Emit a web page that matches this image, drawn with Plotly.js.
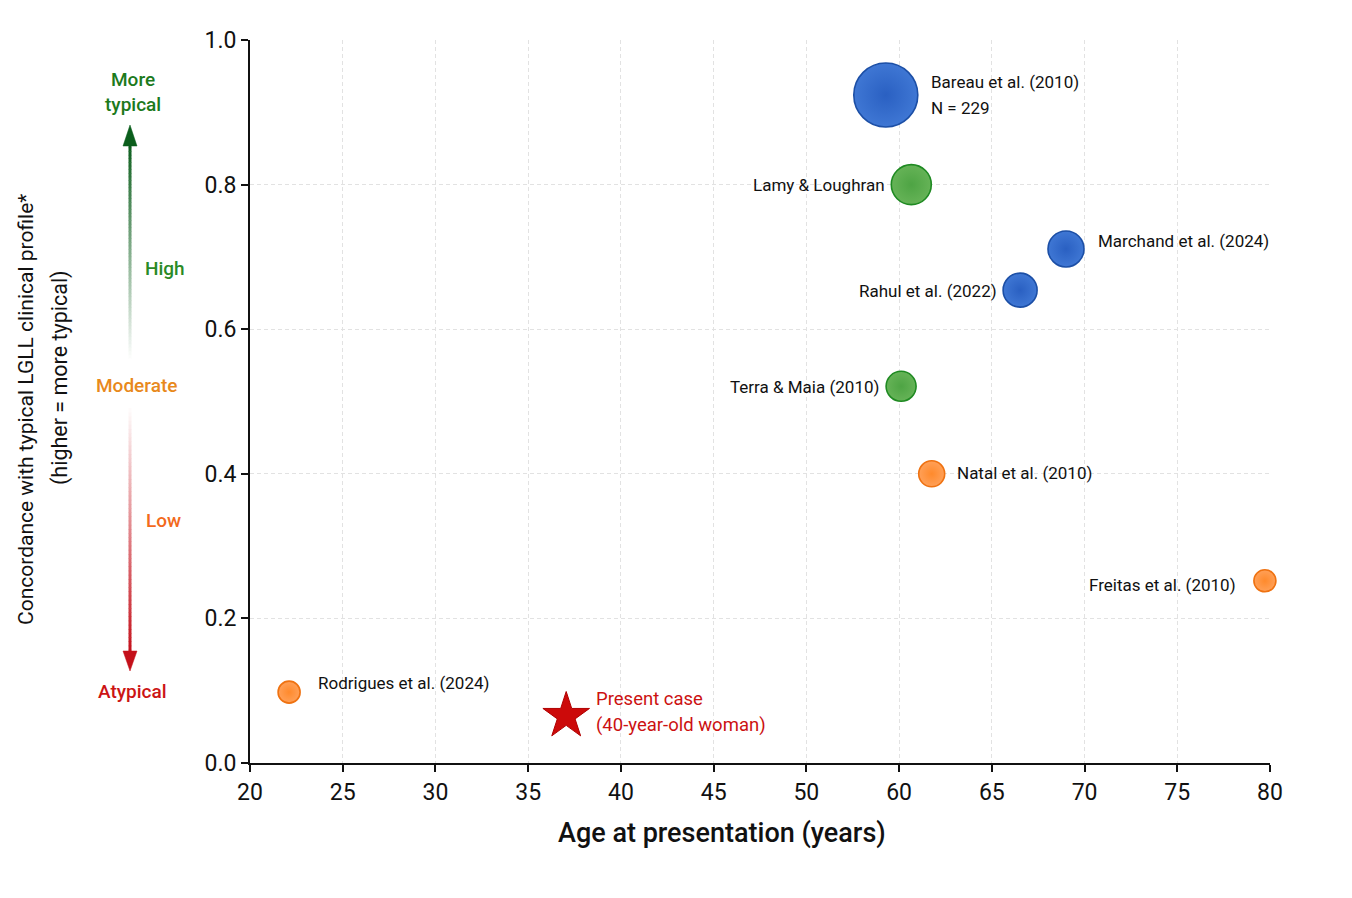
<!DOCTYPE html>
<html>
<head>
<meta charset="utf-8">
<script src="https://cdn.plot.ly/plotly-3.0.1.min.js"></script>
<style>
  html, body { margin: 0; padding: 0; background: #ffffff; }
  #chart { width: 1352px; height: 898px; }
</style>
</head>
<body>
<div id="chart"></div>
<script>
// ---------------- DATA ----------------
const studies = ['Bareau et al. (2010)', 'Lamy & Loughran', 'Marchand et al. (2024)', 'Rahul et al. (2022)',
                 'Terra & Maia (2010)', 'Natal et al. (2010)', 'Freitas et al. (2010)', 'Rodrigues et al. (2024)'];
// x positions read on the drawn (evenly ticked) age axis
const agePos = [57.4, 58.9, 68.0, 65.3, 58.3, 60.1, 79.7, 22.3];
const concordance = [0.924, 0.800, 0.711, 0.654, 0.521, 0.400, 0.252, 0.098];
const studyGroup = ['blue', 'green', 'blue', 'blue', 'green', 'orange', 'orange', 'orange'];
const bareauN = 229;

const presentLabel = ['Present case', '(40-year-old woman)'];
const presentAge = [38.6];
const presentConcordance = [0.065];

const xTickLabels = ['20', '25', '30', '35', '40', '45', '50', '60', '65', '70', '75', '80'];
const yTickValues = [0, 0.2, 0.4, 0.6, 0.8, 1.0];
const yTickLabels = ['0.0', '0.2', '0.4', '0.6', '0.8', '1.0'];

// ---------------- STYLE ----------------
const FONT = 'Roboto, "Liberation Sans", Arial, sans-serif';
const markerPx = [64, 40, 36, 34, 30, 26, 22, 22];
const palette = {
  blue:   {center: '#3f77d4', edge: '#2a60c2', line: '#1c4fa6'},
  green:  {center: '#66b357', edge: '#4ea444', line: '#1f8a22'},
  orange: {center: '#ffa058', edge: '#ff8a2c', line: '#ef7211'}
};
// label placement: side, horizontal gap beyond marker edge, vertical shift (px)
const labelSide  = ['right', 'left', 'right', 'left', 'left', 'right', 'left', 'right'];
const labelGap   = [11, 4, 12, 4, 5, 10, 16, 16];
const labelShift = [0, 0, 8, -1, -1, 1, -4, 9];

const xMin = 20, xMax = 80;
const xTickVals = xTickLabels.map((_, i) => xMin + i * (xMax - xMin) / (xTickLabels.length - 1));

// plot geometry helpers (paper coords from pixels) for the side scale
const M = {l: 250, r: 82, t: 40, b: 135};
const W = 1352, H = 898;
const pw = W - M.l - M.r, ph = H - M.t - M.b;
const px = v => (v - M.l) / pw;
const py = v => (H - M.b - v) / ph;

// ---------------- TRACES ----------------
const traces = [];
['blue', 'green', 'orange'].forEach(g => {
  const idx = studies.map((_, i) => i).filter(i => studyGroup[i] === g);
  traces.push({
    type: 'scatter', mode: 'markers',
    x: idx.map(i => agePos[i]),
    y: idx.map(i => concordance[i]),
    text: idx.map(i => studies[i]),
    hoverinfo: 'text',
    cliponaxis: false,
    marker: {
      size: idx.map(i => markerPx[i]),
      color: palette[g].center,
      gradient: {type: 'radial', color: palette[g].edge},
      line: {color: palette[g].line, width: 1.6},
      opacity: 1
    },
    showlegend: false
  });
});
traces.push({
  type: 'scatter', mode: 'markers',
  x: presentAge, y: presentConcordance,
  text: [presentLabel.join(' ')], hoverinfo: 'text',
  cliponaxis: false,
  marker: {symbol: 'star', size: 35, color: '#cc0a0a', line: {color: '#b00000', width: 1}},
  showlegend: false
});

// ---------------- ANNOTATIONS ----------------
const ann = [];
studies.forEach((s, i) => {
  const r = markerPx[i] / 2;
  const right = labelSide[i] === 'right';
  const base = {
    x: agePos[i], y: concordance[i], xref: 'x', yref: 'y',
    showarrow: false, xanchor: right ? 'left' : 'right', yanchor: 'middle',
    xshift: (right ? 1 : -1) * (r + labelGap[i]),
    font: {family: FONT, size: 17, color: '#111111'}
  };
  if (i === 0) {
    ann.push(Object.assign({}, base, {text: s, yshift: 13}));
    ann.push(Object.assign({}, base, {text: 'N = ' + bareauN, yshift: -13}));
  } else {
    ann.push(Object.assign({}, base, {text: s, yshift: labelShift[i]}));
  }
});
presentLabel.forEach((t, k) => {
  ann.push({
    x: presentAge[0], y: presentConcordance[0], xref: 'x', yref: 'y',
    showarrow: false, xanchor: 'left', yanchor: 'middle',
    xshift: 28, yshift: k === 0 ? 17 : -9,
    text: t, font: {family: FONT, size: 18.5, color: '#cc1111'}
  });
});

// axis titles
ann.push({
  xref: 'paper', yref: 'paper', x: px(722), y: py(833), showarrow: false,
  xanchor: 'center', yanchor: 'middle',
  text: 'Age at presentation (years)',
  font: {family: FONT, size: 27, color: '#111111', weight: 500}
});
ann.push({
  xref: 'paper', yref: 'paper', x: px(26), y: py(410), showarrow: false,
  xanchor: 'center', yanchor: 'middle', textangle: -90,
  text: 'Concordance with typical LGLL clinical profile*',
  font: {family: FONT, size: 21, color: '#111111'}
});
ann.push({
  xref: 'paper', yref: 'paper', x: px(60), y: py(378), showarrow: false,
  xanchor: 'center', yanchor: 'middle', textangle: -90,
  text: '(higher = more typical)',
  font: {family: FONT, size: 21.5, color: '#111111'}
});

// side scale labels
const scaleLabels = [
  {t: 'More', x: 133, y: 79, c: '#1c7a1c'},
  {t: 'typical', x: 133, y: 104, c: '#1c7a1c'},
  {t: 'High', x: 165, y: 268, c: '#2a8a26'},
  {t: 'Moderate', x: 136, y: 385, c: '#e8891c'},
  {t: 'Low', x: 163, y: 520, c: '#f36a1c'},
  {t: 'Atypical', x: 132, y: 691, c: '#cc1414'}
];
scaleLabels.forEach(l => ann.push({
  xref: 'paper', yref: 'paper', x: px(l.x), y: py(l.y), showarrow: false,
  xanchor: 'center', yanchor: 'middle', text: l.t,
  font: {family: FONT, size: 19, color: l.c, weight: 500}
}));

// ---------------- SHAPES (gradient scale arrow) ----------------
const shapes = [];
function mix(c1, c2, t) {
  const a = c1.match(/\w\w/g).map(h => parseInt(h, 16));
  const b = c2.match(/\w\w/g).map(h => parseInt(h, 16));
  return 'rgb(' + a.map((v, i) => Math.round(v + (b[i] - v) * t)).join(',') + ')';
}
const AX = 130;
function gradLine(y0, y1, cFrom, cTo, n) {
  for (let i = 0; i < n; i++) {
    const ya = y0 + (y1 - y0) * i / n, yb = y0 + (y1 - y0) * (i + 1) / n + 0.5 * Math.sign(y1 - y0);
    const t = i / (n - 1);
    shapes.push({type: 'line', xref: 'paper', yref: 'paper', layer: 'above',
      x0: px(AX), x1: px(AX), y0: py(ya), y1: py(yb),
      line: {color: mix(cFrom, cTo, t), width: 3}});
  }
}
gradLine(144, 362, '0b5e1c', 'ffffff', 60);
gradLine(404, 654, 'ffffff', 'c4101a', 60);
function tri(tipY, baseY, col) {
  shapes.push({type: 'path', xref: 'paper', yref: 'paper', layer: 'above',
    path: 'M ' + px(AX) + ' ' + py(tipY) + ' L ' + px(AX - 7) + ' ' + py(baseY) + ' L ' + px(AX + 7) + ' ' + py(baseY) + ' Z',
    fillcolor: col, line: {color: col, width: 0.5}});
}
tri(125, 146, '#0b5e1c');
tri(671, 651, '#c4101a');

// ---------------- LAYOUT ----------------
const layout = {
  width: W, height: H,
  margin: M,
  paper_bgcolor: '#ffffff', plot_bgcolor: '#ffffff',
  font: {family: FONT, color: '#111111'},
  xaxis: {
    range: [xMin, xMax], tickvals: xTickVals, ticktext: xTickLabels,
    showgrid: true, gridcolor: '#e2e2e2', griddash: '4px,3px', gridwidth: 1,
    showline: true, linecolor: '#111111', linewidth: 2,
    ticks: 'outside', ticklen: 7, tickwidth: 2, tickcolor: '#111111',
    tickfont: {family: FONT, size: 23, color: '#111111'},
    zeroline: false, fixedrange: true
  },
  yaxis: {
    range: [0, 1.0], tickvals: yTickValues, ticktext: yTickLabels,
    showgrid: true, gridcolor: '#e2e2e2', griddash: '4px,3px', gridwidth: 1,
    showline: true, linecolor: '#111111', linewidth: 2,
    ticks: 'outside', ticklen: 7, tickwidth: 2, tickcolor: '#111111',
    tickfont: {family: FONT, size: 23, color: '#111111'},
    zeroline: false, fixedrange: true
  },
  annotations: ann,
  shapes: shapes,
  showlegend: false,
  hovermode: 'closest'
};

Plotly.newPlot('chart', traces, layout, {displayModeBar: false, staticPlot: false});
</script>
</body>
</html>
